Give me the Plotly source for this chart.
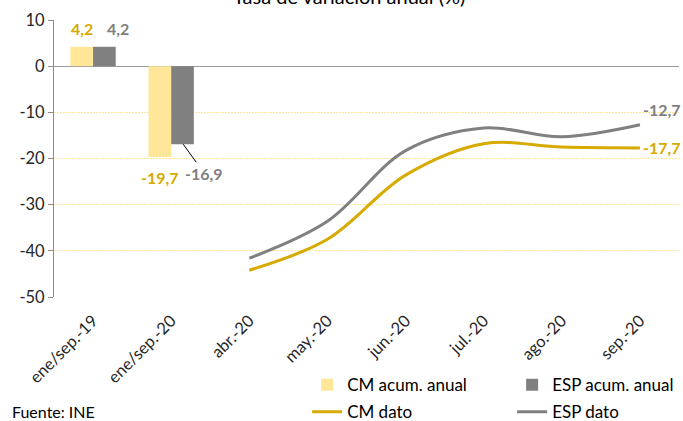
import plotly.graph_objects as go

categories = ["ene/sep.-19", "ene/sep.-20", "abr.-20", "may.-20", "jun.-20", "jul.-20", "ago.-20", "sep.-20"]
bar_cats = ["ene/sep.-19", "ene/sep.-20"]
cm_acum = [4.2, -19.7]
esp_acum = [4.2, -16.9]
month_cats = ["abr.-20", "may.-20", "jun.-20", "jul.-20", "ago.-20", "sep.-20"]
cm_dato = [-44.2, -37.5, -23.6, -16.8, -17.5, -17.7]
esp_dato = [-41.6, -33.6, -18.3, -13.4, -15.3, -12.7]
y_ticks = [10, 0, -10, -20, -30, -40, -50]
y_tick_labels = ["10", "0", "-10", "-20", "-30", "-40", "-50"]

GOLD = "#D6AA00"
LIGHT = "#FFE699"
GREY = "#808080"
FONT = "Lato"

def fmt(v):
    return f"{v:.1f}".replace(".", ",")

fig = go.Figure()
fig.add_trace(go.Bar(x=bar_cats, y=cm_acum, name="CM acum. anual", marker_color=LIGHT,
                     marker_line_width=0, legend="legend"))
fig.add_trace(go.Bar(x=bar_cats, y=esp_acum, name="ESP acum. anual", marker_color=GREY,
                     marker_line_width=0, legend="legend"))
fig.add_trace(go.Scatter(x=month_cats, y=cm_dato, name="CM dato", mode="lines",
                         line=dict(color=GOLD, width=3, shape="spline", smoothing=1), legend="legend2"))
fig.add_trace(go.Scatter(x=month_cats, y=esp_dato, name="ESP dato", mode="lines",
                         line=dict(color=GREY, width=3, shape="spline", smoothing=1), legend="legend2"))

lab_font = dict(family=FONT, size=16)
anns = []
# bar labels
anns.append(dict(x=bar_cats[0], y=cm_acum[0], text=f"<b>{fmt(cm_acum[0])}</b>", showarrow=False,
                 xshift=-11, yshift=18, font=dict(lab_font, color=GOLD)))
anns.append(dict(x=bar_cats[0], y=esp_acum[0], text=f"<b>{fmt(esp_acum[0])}</b>", showarrow=False,
                 xshift=25, yshift=18, font=dict(lab_font, color=GREY)))
anns.append(dict(x=bar_cats[1], y=cm_acum[1], text=f"<b>{fmt(cm_acum[1])}</b>", showarrow=False,
                 xshift=-11, yshift=-20, font=dict(lab_font, color=GOLD)))
anns.append(dict(x=bar_cats[1], y=esp_acum[1], text=f"<b>{fmt(esp_acum[1])}</b>", showarrow=True,
                 arrowhead=0, arrowwidth=1, arrowcolor="#000000", ax=21, ay=29,
                 xshift=12, font=dict(lab_font, color=GREY)))
# line end labels
anns.append(dict(x=month_cats[-1], y=esp_dato[-1], text=f"<b>{fmt(esp_dato[-1])}</b>", showarrow=False,
                 xshift=22, yshift=15, font=dict(lab_font, color=GREY)))
anns.append(dict(x=month_cats[-1], y=cm_dato[-1], text=f"<b>{fmt(cm_dato[-1])}</b>", showarrow=False,
                 xshift=22, yshift=0, font=dict(lab_font, color=GOLD)))
# title
anns.append(dict(xref="paper", yref="paper", x=0.472, y=1, yanchor="bottom", yshift=10,
                 text="Tasa de variación anual (%)", showarrow=False,
                 font=dict(family=FONT, size=20, color="#000000")))
# source
anns.append(dict(xref="paper", yref="paper", x=-0.07, xanchor="left", y=-0.414, yanchor="middle",
                 text="Fuente: INE", showarrow=False,
                 font=dict(family=FONT, size=16, color="#000000")))

fig.update_layout(
    width=683, height=421, autosize=False,
    margin=dict(l=54, r=4, t=20, b=124, autoexpand=False),
    paper_bgcolor="white", plot_bgcolor="white",
    barmode="group", bargap=0.42, bargroupgap=0,
    font=dict(family=FONT, size=16, color="#262626"),
    annotations=anns,
    legend=dict(orientation="h", x=0.405, xanchor="left", y=-0.318, yanchor="middle",
                entrywidth=160, font=dict(family=FONT, size=17, color="#000000"),
                bgcolor="rgba(0,0,0,0)"),
    legend2=dict(orientation="h", x=0.405, xanchor="left", y=-0.416, yanchor="middle",
                 entrywidth=160, font=dict(family=FONT, size=17, color="#000000"),
                 bgcolor="rgba(0,0,0,0)"),
    xaxis=dict(type="category", categoryorder="array", categoryarray=categories,
               range=[-0.5, len(categories) - 0.5], showgrid=False, showline=False,
               ticks="", tickangle=-45, ticklabelstandoff=10,
               tickfont=dict(family=FONT, size=16.5, color="#262626")),
    yaxis=dict(range=[-50, 10], tickmode="array", tickvals=y_ticks, ticktext=y_tick_labels,
               showgrid=True, gridcolor="#FFE699", griddash="2px,1px",
               gridwidth=1, zeroline=True, zerolinecolor="#9a9a9a", zerolinewidth=1,
               showline=True, linecolor="#8c8c8c", linewidth=1, ticks="outside", ticklen=5,
               tickcolor="#8c8c8c", tickfont=dict(family=FONT, size=16.5, color="#262626")),
    showlegend=True,
)

fig.write_html("out.html", config={"displayModeBar": False},
               post_script="document.body.style.margin='0';")
